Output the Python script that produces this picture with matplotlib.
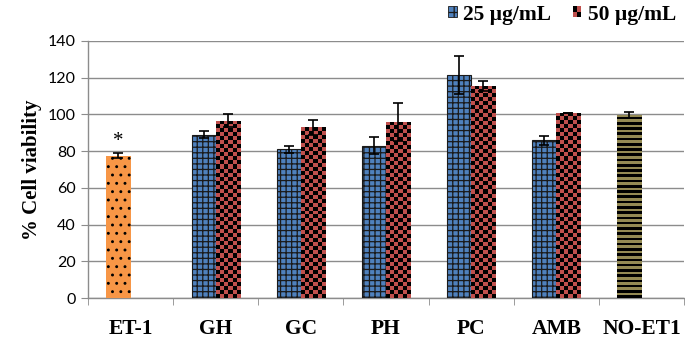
import numpy as np
import matplotlib
matplotlib.use("Agg")
from matplotlib import pyplot as plt
from matplotlib.colors import ListedColormap
from matplotlib.patches import Patch, Rectangle
from matplotlib.legend_handler import HandlerBase

# data
cats = ['ET-1', 'GH', 'GC', 'PH', 'PC', 'AMB', 'NO-ET1']
treated = ['GH', 'GC', 'PH', 'PC', 'AMB']
v25 = [89.0, 81.0, 83.0, 121.5, 86.0]
e25 = [2.0, 2.0, 4.5, 10.5, 2.5]
v50 = [96.5, 93.0, 96.0, 115.5, 101.0]
e50 = [3.5, 4.2, 10.4, 2.7, 0.0]
et1_val, et1_err = 77.5, 1.5
noet1_val, noet1_err = 99.7, 1.5
yticks = [0, 20, 40, 60, 80, 100, 120, 140]

BLUE = '#4F81BD'
RED = '#C0504D'
ORANGE = '#F79646'
OLIVE = '#948A54'
GRID = '#8C8C8C'

plt.rcParams['hatch.linewidth'] = 0.9
serif = 'Liberation Serif'


def fill_image(ax, bar, arr, colors):
    # paint a pixel pattern inside a bar, clipped to it
    x, y = bar.get_x(), bar.get_y()
    w, h = bar.get_width(), bar.get_height()
    im = ax.imshow(arr, extent=(x, x + w, y, y + h), origin='upper',
                   cmap=ListedColormap(colors), interpolation='nearest',
                   aspect='auto', zorder=bar.get_zorder() + 0.1)
    im.set_clip_path(bar)


def bar_px(ax, bar):
    p = ax.transData.transform([(bar.get_x(), bar.get_y()),
                                (bar.get_x() + bar.get_width(), bar.get_y() + bar.get_height())])
    return p[1] - p[0]


class CheckerHandler(HandlerBase):
    def create_artists(self, legend, orig_handle, xd, yd, width, height, fontsize, trans):
        arts = []
        cols = [[RED, 'black'], ['black', RED]]
        for i in range(2):
            for j in range(2):
                r = Rectangle((-xd + j * width / 2, -yd + i * height / 2), width / 2, height / 2,
                              facecolor=cols[i][j], edgecolor='none', transform=trans)
                arts.append(r)
        return arts


fig = plt.figure(figsize=(6.85, 3.38), dpi=100)
ax = fig.add_axes([88 / 685, 40 / 338, 596 / 685, 257 / 338])

x = np.arange(len(cats))
xt = np.array([cats.index(c) for c in treated])
bw = 0.283
off = 0.142

ax.set_xlim(-0.5, len(cats) - 0.5)
ax.set_ylim(0, 140)

b_et = ax.bar(x[0] - off, et1_val, bw, color=ORANGE, edgecolor='black', linewidth=0,
              hatch='..', zorder=3)
b25 = ax.bar(xt - off, v25, bw, color=BLUE, edgecolor='#1a1a1a', linewidth=0.8,
             hatch='+++', zorder=3)
b50 = ax.bar(xt + off, v50, bw, color=RED, edgecolor='none', zorder=3)
b_no = ax.bar(x[-1] - off, noet1_val, bw, color=OLIVE, edgecolor='none', zorder=3)

for b in b50:
    wpx, hpx = bar_px(ax, b)
    nc = 6
    nr = max(1, int(round(hpx / (wpx / nc))))
    arr = np.add.outer(np.arange(nr), np.arange(nc)) % 2
    fill_image(ax, b, arr, [RED, 'black'])

for b in b_no:
    wpx, hpx = bar_px(ax, b)
    nr = max(1, int(round(hpx / 2.6)))
    arr = (np.arange(nr) % 2).reshape(-1, 1)
    fill_image(ax, b, arr, [OLIVE, 'black'])

ax.set_xlim(-0.5, len(cats) - 0.5)
ax.set_ylim(0, 140)

ekw = dict(fmt='none', ecolor='black', elinewidth=1.2, capsize=3.5, capthick=1.2, zorder=5)
ax.errorbar(x[0] - off, et1_val, yerr=et1_err, **ekw)
ax.errorbar(xt - off, v25, yerr=e25, **ekw)
ax.errorbar(xt + off, v50, yerr=e50, **ekw)
ax.errorbar(x[-1] - off, noet1_val, yerr=noet1_err, **ekw)

ax.text(x[0] - off, et1_val + et1_err + 6, '*', ha='center', va='center',
        fontsize=15, family=serif)

# axes styling
ax.set_yticks(yticks)
ax.set_yticklabels([str(t) for t in yticks], family='Lato', fontsize=11.5)
ax.yaxis.grid(True, color=GRID, linewidth=1.0)
ax.set_axisbelow(True)
ax.tick_params(axis='y', direction='out', length=5, color=GRID, pad=4)
ax.set_xticks(x)
ax.set_xticklabels(cats, family=serif, fontweight='bold', fontsize=15.5)
ax.set_xticks(np.arange(len(cats) + 1) - 0.5, minor=True)
ax.tick_params(axis='x', which='major', length=0, pad=15)
ax.tick_params(axis='x', which='minor', direction='out', length=5, color=GRID)
for s in ['top', 'right']:
    ax.spines[s].set_visible(False)
for s in ['left', 'bottom']:
    ax.spines[s].set_color(GRID)
    ax.spines[s].set_linewidth(1.0)

ax.set_ylabel('% Cell viability', family=serif, fontweight='bold', fontsize=15, labelpad=4)

h25 = Patch(facecolor=BLUE, edgecolor='#1a1a1a', hatch='++', linewidth=0.6)
h50 = Patch(facecolor=RED)
fig.legend([h25, h50], ['25 µg/mL', '50 µg/mL'], loc='center right',
           bbox_to_anchor=(1.015, 0.957), ncol=2, frameon=False,
           prop=dict(family=serif, weight='bold', size=15.5),
           handlelength=0.4, handleheight=0.4, handletextpad=0.3, columnspacing=1.0,
           handler_map={h50: CheckerHandler()})

fig.savefig('out.png', dpi=100)
